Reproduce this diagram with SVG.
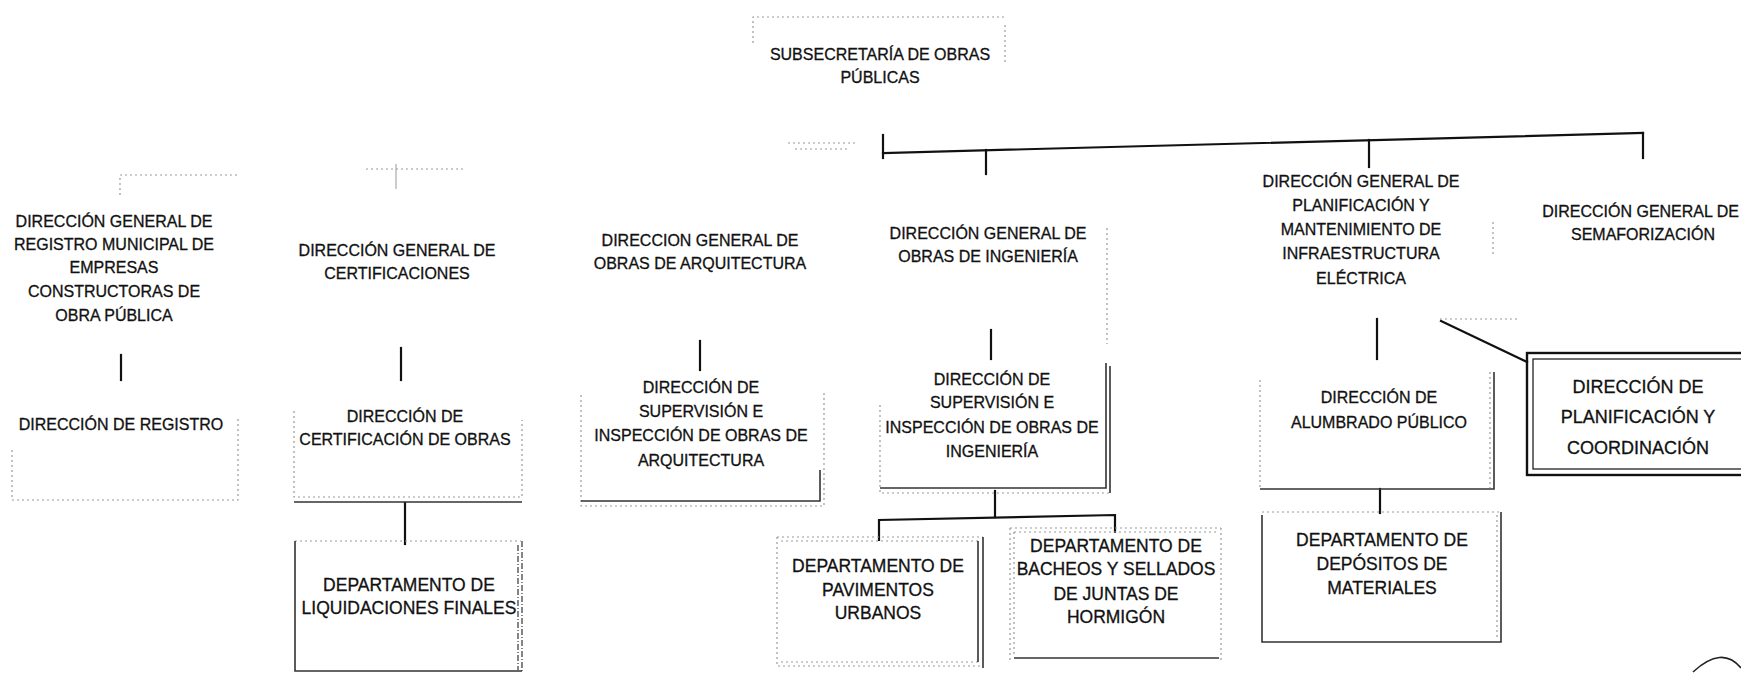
<svg xmlns="http://www.w3.org/2000/svg" width="1741" height="674" viewBox="0 0 1741 674">
<style>
.t{font-family:"Liberation Sans",Arial,sans-serif;font-size:16px;fill:#111;stroke:#111;stroke-width:0.3;text-anchor:middle}
.d{font-size:17.5px}
.big{font-size:18px}
.ln{stroke:#111;stroke-width:2.2;fill:none;stroke-linecap:square}
.fa{stroke:#999;stroke-width:1.2;stroke-dasharray:2 3;fill:none}
.dk{stroke:#333;stroke-width:1.6;fill:none}
.sd{stroke:#444;stroke-width:1.3;stroke-dasharray:6 2 1 2;fill:none}
</style>
<rect width="1741" height="674" fill="#fff"/>

<g id="connectors">
  <path class="ln" d="M883,135 V158"/>
  <path class="ln" d="M883,153 L1643,133"/>
  <path class="ln" d="M986,150 V174"/>
  <path class="ln" d="M1369,140 V167"/>
  <path class="ln" d="M1643,133 V158"/>
  <path class="ln" d="M121,355 V380"/>
  <path class="ln" d="M401,348 V380"/>
  <path class="ln" d="M700,341 V370"/>
  <path class="ln" d="M991,330 V359"/>
  <path class="ln" d="M1377,319 V359"/>
  <path class="ln" d="M1441,321 L1527,362" stroke-width="2"/>
  <path class="ln" d="M405,503 V544" stroke-width="2.8"/>
  <path class="ln" d="M995,491 V517" stroke-width="2.8"/>
  <path class="ln" d="M879,540 V520 L1115,515 V532" stroke-width="2.6"/>
  <path class="ln" d="M1380,489 V513" stroke-width="2.6"/>
</g>

<g id="scan-marks">
  <path class="fa" d="M753,43 V17 H1005 M1005,25 V62"/>
  <path class="fa" d="M788,143 H855 M795,149 H850"/>
  <path class="fa" d="M120,195 V175 H240"/>
  <path class="fa" d="M366,169 H466"/>
  <path d="M396,164 V189" stroke="#999" stroke-width="1"/>
  <path class="fa" d="M1107,228 V344"/>
  <path class="fa" d="M1493,222 V255 M1440,319 H1520"/>
  <path d="M1693,672 Q1722,645 1741,668" stroke="#222" stroke-width="1.6" fill="none"/>
</g>

<g id="n-subsecretaria">
  <text class="t" x="880" y="60">SUBSECRETARÍA DE OBRAS</text>
  <text class="t" x="880" y="83">PÚBLICAS</text>
</g>

<g id="n-dg-registro">
  <text class="t" x="114" y="227">DIRECCIÓN GENERAL DE</text>
  <text class="t" x="114" y="250">REGISTRO MUNICIPAL DE</text>
  <text class="t" x="114" y="273">EMPRESAS</text>
  <text class="t" x="114" y="297">CONSTRUCTORAS DE</text>
  <text class="t" x="114" y="321">OBRA PÚBLICA</text>
</g>

<g id="n-dg-certificaciones">
  <text class="t" x="397" y="256">DIRECCIÓN GENERAL DE</text>
  <text class="t" x="397" y="279">CERTIFICACIONES</text>
</g>

<g id="n-dg-arquitectura">
  <text class="t" x="700" y="246">DIRECCION GENERAL DE</text>
  <text class="t" x="700" y="269">OBRAS DE ARQUITECTURA</text>
</g>

<g id="n-dg-ingenieria">
  <text class="t" x="988" y="239">DIRECCIÓN GENERAL DE</text>
  <text class="t" x="988" y="262">OBRAS DE INGENIERÍA</text>
</g>

<g id="n-dg-electrica">
  <text class="t" x="1361" y="187">DIRECCIÓN GENERAL DE</text>
  <text class="t" x="1361" y="211">PLANIFICACIÓN Y</text>
  <text class="t" x="1361" y="235">MANTENIMIENTO DE</text>
  <text class="t" x="1361" y="259">INFRAESTRUCTURA</text>
  <text class="t" x="1361" y="284">ELÉCTRICA</text>
</g>

<g id="n-dg-semaforizacion">
  <text class="t" x="1739" y="217" style="text-anchor:end">DIRECCIÓN GENERAL DE</text>
  <text class="t" x="1643" y="240">SEMAFORIZACIÓN</text>
</g>

<g id="n-registro">
  <path class="fa" d="M12,450 V500 H238 V418"/>
  <text class="t" x="121" y="430">DIRECCIÓN DE REGISTRO</text>
</g>

<g id="n-certificacion">
  <path class="fa" d="M294,411 V497 H522 V420"/>
  <path class="dk" d="M294,502 H522"/>
  <text class="t" x="405" y="422">DIRECCIÓN DE</text>
  <text class="t" x="405" y="445">CERTIFICACIÓN DE OBRAS</text>
</g>

<g id="n-liquidaciones">
  <path class="fa" d="M295,541 H521"/>
  <path class="dk" d="M295,541 V671 H522" stroke-width="2"/>
  <path class="sd" d="M518,545 V670 M522,541 V672"/>
  <text class="t d" x="409" y="591">DEPARTAMENTO DE</text>
  <text class="t d" x="409" y="614">LIQUIDACIONES FINALES</text>
</g>

<g id="n-sup-arquitectura">
  <path class="fa" d="M581,395 V506 H824 V392"/>
  <path class="dk" d="M581,501 H820 V470"/>
  <text class="t" x="701" y="393">DIRECCIÓN DE</text>
  <text class="t" x="701" y="417">SUPERVISIÓN E</text>
  <text class="t" x="701" y="441">INSPECCIÓN DE OBRAS DE</text>
  <text class="t" x="701" y="466">ARQUITECTURA</text>
</g>

<g id="n-sup-ingenieria">
  <path class="fa" d="M880,405 V493 H1110"/>
  <path class="dk" d="M880,488 H1106 V363 M1110,366 V493"/>
  <text class="t" x="992" y="385">DIRECCIÓN DE</text>
  <text class="t" x="992" y="408">SUPERVISIÓN E</text>
  <text class="t" x="992" y="433">INSPECCIÓN DE OBRAS DE</text>
  <text class="t" x="992" y="457">INGENIERÍA</text>
</g>

<g id="n-pavimentos">
  <path class="fa" d="M777,537 H983 M781,541 H978 M777,537 V666 H983 M781,662 H978"/>
  <path class="dk" d="M978,541 V662 M983,537 V668"/>
  <text class="t d" x="878" y="572">DEPARTAMENTO DE</text>
  <text class="t d" x="878" y="596">PAVIMENTOS</text>
  <text class="t d" x="878" y="619">URBANOS</text>
</g>

<g id="n-bacheos">
  <path class="fa" d="M1010,528 H1221 M1014,532 H1217 M1010,528 V661 M1014,532 V657 M1221,528 V660"/>
  <path class="dk" d="M1014,658 H1219"/>
  <text class="t d" x="1116" y="552">DEPARTAMENTO DE</text>
  <text class="t d" x="1116" y="575">BACHEOS Y SELLADOS</text>
  <text class="t d" x="1116" y="600">DE JUNTAS DE</text>
  <text class="t d" x="1116" y="623">HORMIGÓN</text>
</g>

<g id="n-alumbrado">
  <path class="fa" d="M1260,380 V490 M1490,372 V488"/>
  <path class="dk" d="M1260,489 H1494 V372"/>
  <text class="t" x="1379" y="403">DIRECCIÓN DE</text>
  <text class="t" x="1379" y="428">ALUMBRADO PÚBLICO</text>
</g>

<g id="n-depositos">
  <path class="fa" d="M1262,512 H1501 M1497,515 V640"/>
  <path class="dk" d="M1262,515 V642 H1501 V512"/>
  <text class="t d" x="1382" y="546">DEPARTAMENTO DE</text>
  <text class="t d" x="1382" y="570">DEPÓSITOS DE</text>
  <text class="t d" x="1382" y="594">MATERIALES</text>
</g>

<g id="n-planificacion">
  <rect x="1527" y="353" width="230" height="122" fill="none" stroke="#111" stroke-width="2.4"/>
  <rect x="1533" y="359" width="220" height="110" fill="none" stroke="#222" stroke-width="1.3"/>
  <text class="t big" x="1638" y="393">DIRECCIÓN DE</text>
  <text class="t big" x="1638" y="423">PLANIFICACIÓN Y</text>
  <text class="t big" x="1638" y="454">COORDINACIÓN</text>
</g>
</svg>
